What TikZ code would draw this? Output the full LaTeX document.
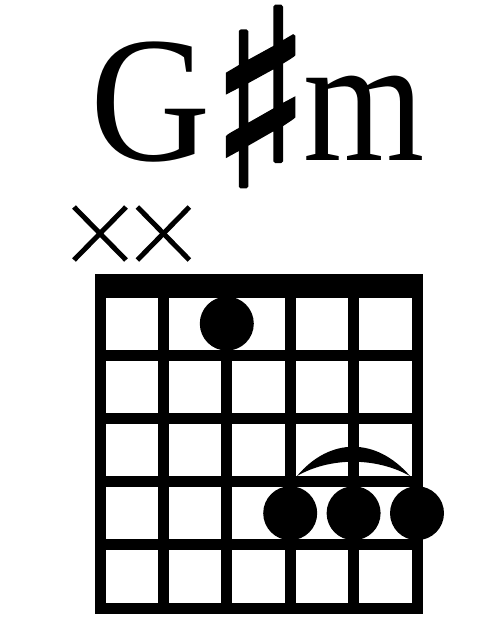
\documentclass[tikz,border=0pt]{standalone}
\usepackage{fontspec}
\setmainfont{Liberation Serif}
\newfontfamily\symfont[FakeBold=2]{DejaVu Sans}
\usepackage{graphicx}
\usepackage{xcolor}
\definecolor{ink}{HTML}{000000}
\usepackage{tikz}
\usetikzlibrary{positioning, calc}

\tikzset{
  gridline/.style={line width=0.22cm, line cap=rect, ink},
  dotmark/.style={circle, fill=ink, inner sep=0pt, minimum size=1.08cm},
  mutemark/.style={line width=0.1cm, ink},
  chordname/.style={anchor=base west, inner sep=0pt, font=\fontsize{102}{102}\selectfont},
}

\begin{document}
\begin{tikzpicture}[x=0.02cm, y=-0.02cm]
  \useasboundingbox (0,0) rectangle (500,625);

  % Akor adi
  \node[chordname] (root) at (90,160) {\scalebox{0.93}[1]{G}};
  \node[anchor=base west, inner sep=0pt, font=\symfont\fontsize{118}{118}\selectfont] (sharp) at (210,186) {\scalebox{1}[1.18]{♯}};
  \node[chordname] (qual) at (303,160) {\scalebox{0.87}[1]{m}};

  % Calinmayan teller
  \foreach \x in {100,163.4} {
    \draw[mutemark] (\x-26,207) -- (\x+26,260);
    \draw[mutemark] (\x-26,260) -- (\x+26,207);
  }

  % Eslik (nut)
  \fill[ink] (94.5,274) rectangle (422.5,297.5);

  % Teller ve perdeler
  \foreach \i in {0,...,5} {
    \draw[gridline] (100+63.4*\i,292) -- (100+63.4*\i,608);
    \draw[gridline] (100,292+63.2*\i) -- (417,292+63.2*\i);
  }

  % Basilan noktalar
  \node[dotmark] (f3) at (226.8,323.6) {};
  \node[dotmark] (f4) at (290.2,513.2) {};
  \node[dotmark] (f5) at (353.6,513.2) {};
  \node[dotmark] (f6) at (417,513.2) {};

  % Bare yayi
  \fill[ink] (297,476) .. controls (330,437) and (376,437) .. (410,476)
    .. controls (376,457) and (330,457) .. cycle;

\end{tikzpicture}
\end{document}
